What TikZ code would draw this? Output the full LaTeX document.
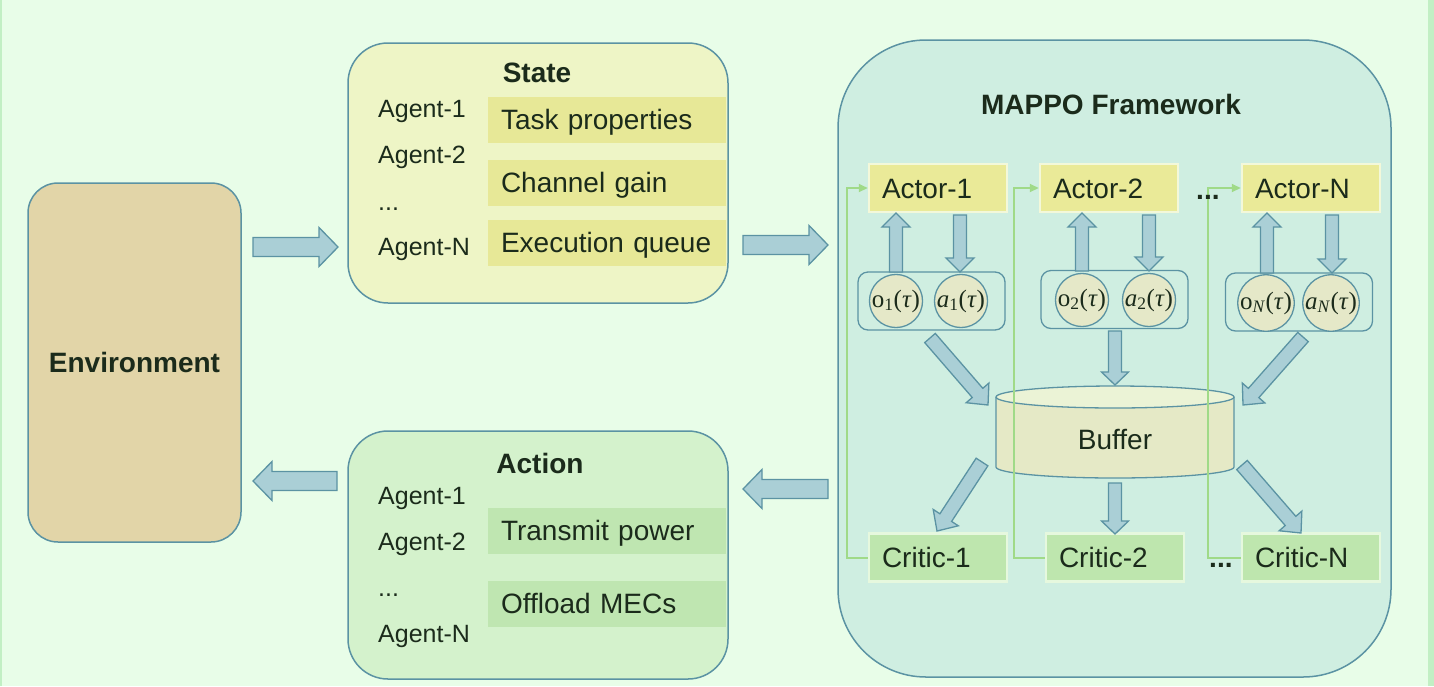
\documentclass[tikz,border=0pt]{standalone}
\usepackage{fontspec}
\setmainfont{Liberation Sans}
\newfontfamily\circfont{Liberation Serif}
\usetikzlibrary{calc,arrows.meta}
\definecolor{bgmint}{HTML}{E8FDE8}
\definecolor{edgegreen}{HTML}{C2EFC4}
\definecolor{tealline}{HTML}{5B93A3}
\definecolor{envtan}{HTML}{E2D5A8}
\definecolor{stateyel}{HTML}{EEF5C6}
\definecolor{stripyel}{HTML}{E7E897}
\definecolor{actgreen}{HTML}{D4F2CC}
\definecolor{stripgrn}{HTML}{BFE6B1}
\definecolor{mappoteal}{HTML}{CFEEE1}
\definecolor{actorfill}{HTML}{EAEA98}
\definecolor{actoredge}{HTML}{F3F8DA}
\definecolor{criticfill}{HTML}{BEE6AE}
\definecolor{criticedge}{HTML}{E6F8DE}
\definecolor{circfill}{HTML}{E5E8C8}
\definecolor{buffill}{HTML}{E5E9C6}
\definecolor{buftop}{HTML}{EBF3D6}
\definecolor{arrowfill}{HTML}{AACFD6}
\definecolor{linkgreen}{HTML}{A0DA88}
\definecolor{inkdark}{HTML}{1B2B1B}

% block arrow: tail, tip, half shaft, half head, head length
\newcommand{\fatarrow}[5]{%
  \coordinate (fa) at ($(#2)!#5!(#1)$);
  \draw[fatarrow] ($(#1)!#3!90:(#2)$) -- ($(fa)!#3!90:(#2)$) -- ($(fa)!#4!90:(#2)$)
    -- (#2) -- ($(fa)!#4!-90:(#2)$) -- ($(fa)!#3!-90:(#2)$) -- ($(#1)!#3!-90:(#2)$) -- cycle;
}

\begin{document}
\begin{tikzpicture}[x=1pt, y=-1pt, text=inkdark,
  panel/.style={draw=tealline, line width=1.5pt},
  title/.style={font=\bfseries\fontsize{28}{32}\selectfont, inner sep=0pt},
  agent/.style={anchor=base west, inner sep=0pt, font=\fontsize{25}{30}\selectfont},
  strip/.style={font=\fontsize{28}{32}\selectfont, text width=212pt, align=left,
    inner xsep=13pt, inner ysep=0pt, minimum height=46pt, text height=24pt, text depth=4.5pt},
  unitbox/.style={line width=2.5pt, font=\fontsize{28}{32}\selectfont, text width=112pt,
    align=left, inner xsep=13pt, inner ysep=0pt, minimum height=48pt, text height=24pt, text depth=4pt},
  actor/.style={unitbox, fill=actorfill, draw=actoredge},
  critic/.style={unitbox, fill=criticfill, draw=criticedge},
  group/.style={draw=tealline, line width=1.3pt, rounded corners=10pt, minimum width=147pt, minimum height=58pt},
  obs/.style={circle, draw=tealline, line width=1.3pt, fill=circfill, minimum size=53pt, inner sep=0pt,
    font=\circfont\fontsize{25}{28}\selectfont},
  fatarrow/.style={draw=tealline, fill=arrowfill, line width=1.3pt},
  link/.style={draw=linkgreen, line width=2pt, -{Triangle[length=9pt,width=8pt]}},
  dots/.style={anchor=base west, inner sep=0pt, font=\bfseries\fontsize{28}{32}\selectfont}]

\useasboundingbox (0,0) rectangle (1434,686);
\fill[bgmint] (0,0) rectangle (1434,686);
\fill[edgegreen] (0,0) rectangle (2,686);
\fill[edgegreen] (1428,0) rectangle (1434,686);

% environment
\node[panel, fill=envtan, rounded corners=30pt, minimum width=213pt, minimum height=359pt,
  font=\bfseries\fontsize{28}{32}\selectfont] (env) at (134.5,362.5) {Environment};

% state
\node[panel, fill=stateyel, rounded corners=40pt, minimum width=380pt, minimum height=260pt] (state) at (538,173) {};
\node[title, anchor=base] (statetitle) at (537,82) {State};
\node[agent] (stag1) at (378,117) {Agent-1};
\node[agent] (stag2) at (378,163) {Agent-2};
\node[agent] (stagd) at (378,210) {...};
\node[agent] (stagN) at (378,255) {Agent-N};
\node[strip, fill=stripyel] (task) at (607,119.5) {Task properties};
\node[strip, fill=stripyel] (gain) at (607,182.5) {Channel gain};
\node[strip, fill=stripyel] (queue) at (607,242.5) {Execution queue};

% action
\node[panel, fill=actgreen, rounded corners=40pt, minimum width=380pt, minimum height=248pt] (action) at (538,555) {};
\node[title, anchor=base] (actiontitle) at (540,473) {Action};
\node[agent] (acag1) at (378,504) {Agent-1};
\node[agent] (acag2) at (378,550) {Agent-2};
\node[agent] (acagd) at (378,596) {...};
\node[agent] (acagN) at (378,642) {Agent-N};
\node[strip, fill=stripgrn] (power) at (607,531) {Transmit power};
\node[strip, fill=stripgrn] (mecs) at (607,604) {Offload MECs};

% MAPPO framework
\node[panel, fill=mappoteal, rounded corners=88pt, minimum width=553pt, minimum height=637pt] (mappo) at (1114.5,358.5) {};
\node[title, anchor=base] (mappotitle) at (1111,114) {MAPPO Framework};

\node[actor] (actor1) at (938,188) {Actor-1};
\node[actor] (actor2) at (1109,188) {Actor-2};
\node[actor] (actorN) at (1311,188) {Actor-N};
\node[critic] (critic1) at (938,557.5) {Critic-1};
\node[critic] (critic2) at (1115,557.5) {Critic-2};
\node[critic] (criticN) at (1311,557.5) {Critic-N};

\node[group] (grp1) at (931.5,301) {};
\node[group] (grp2) at (1114.5,299.5) {};
\node[group] (grpN) at (1299,302) {};
\node[obs] (ob1) at (896,301) {o\textsubscript{1}(\textit{τ})};
\node[obs] (ac1) at (961,301) {\textit{a}\textsubscript{1}(\textit{τ})};
\node[obs] (ob2) at (1082,300) {o\textsubscript{2}(\textit{τ})};
\node[obs] (ac2) at (1149,300) {\textit{a}\textsubscript{2}(\textit{τ})};
\node[obs] (obN) at (1266,303) {o\textsubscript{\textit{N}}(\textit{τ})};
\node[obs] (acN) at (1331,303) {\textit{a}\textsubscript{\textit{N}}(\textit{τ})};

% buffer
\draw[panel, line width=1.3pt, fill=buffill] (996,397) -- (996,467)
  arc[start angle=180, end angle=360, x radius=119pt, y radius=11pt] -- (1234,397);
\draw[panel, line width=1.3pt, fill=buftop] (1115,397) ellipse [x radius=119pt, y radius=11pt];
\node[font=\fontsize{28}{32}\selectfont, anchor=base, inner sep=0pt] (buffer) at (1115,449) {Buffer};

% arrow end points
\coordinate (envout) at (253,247);  \coordinate (statein) at (338,247);
\coordinate (stateout) at (743,245); \coordinate (mappoin) at (828,245);
\coordinate (mappoout) at (828,489); \coordinate (actionin) at (743,489);
\coordinate (actionout) at (337,481); \coordinate (envin) at (253,481);

\coordinate (up1s) at (896,272);  \coordinate (up1e) at (896,213);
\coordinate (dn1s) at (960,215);  \coordinate (dn1e) at (960,272);
\coordinate (up2s) at (1082,271); \coordinate (up2e) at (1082,213);
\coordinate (dn2s) at (1149,215); \coordinate (dn2e) at (1149,271);
\coordinate (upNs) at (1267,273); \coordinate (upNe) at (1267,213);
\coordinate (dnNs) at (1332,215); \coordinate (dnNe) at (1332,273);

\coordinate (in1s) at (930,338);  \coordinate (in1e) at (988,405);
\coordinate (in2s) at (1115,331); \coordinate (in2e) at (1115,385);
\coordinate (inNs) at (1303,337); \coordinate (inNe) at (1243,405);
\coordinate (out1s) at (982,462);  \coordinate (out1e) at (937,531);
\coordinate (out2s) at (1115,483); \coordinate (out2e) at (1115,534);
\coordinate (outNs) at (1242,465); \coordinate (outNe) at (1301,533);

\fatarrow{envout}{statein}{9.5pt}{19.5pt}{19pt}
\fatarrow{stateout}{mappoin}{9.5pt}{19.5pt}{19pt}
\fatarrow{mappoout}{actionin}{9.5pt}{19.5pt}{19pt}
\fatarrow{actionout}{envin}{9.5pt}{19.5pt}{19pt}

\fatarrow{up1s}{up1e}{6.5pt}{14pt}{14pt}
\fatarrow{dn1s}{dn1e}{6.5pt}{14pt}{14pt}
\fatarrow{up2s}{up2e}{6.5pt}{14pt}{14pt}
\fatarrow{dn2s}{dn2e}{6.5pt}{14pt}{14pt}
\fatarrow{upNs}{upNe}{6.5pt}{14pt}{14pt}
\fatarrow{dnNs}{dnNe}{6.5pt}{14pt}{14pt}

\fatarrow{in1s}{in1e}{7pt}{15pt}{16pt}
\fatarrow{in2s}{in2e}{6.5pt}{13.5pt}{13pt}
\fatarrow{inNs}{inNe}{7pt}{15pt}{16pt}
\fatarrow{out1s}{out1e}{7pt}{15pt}{16pt}
\fatarrow{out2s}{out2e}{6.5pt}{13.5pt}{13pt}
\fatarrow{outNs}{outNe}{7pt}{15pt}{16pt}

% critic to actor links
\draw[link] (critic1.west) -- ++(-21,0) |- (actor1.west);
\draw[link] (critic2.west) -- ++(-31,0) |- (actor2.west);
\draw[link] (criticN.west) -- ++(-33,0) |- (actorN.west);
\node[dots] (actordots) at (1196,199) {...};
\node[dots] (criticdots) at (1209,567) {...};
\end{tikzpicture}
\end{document}
